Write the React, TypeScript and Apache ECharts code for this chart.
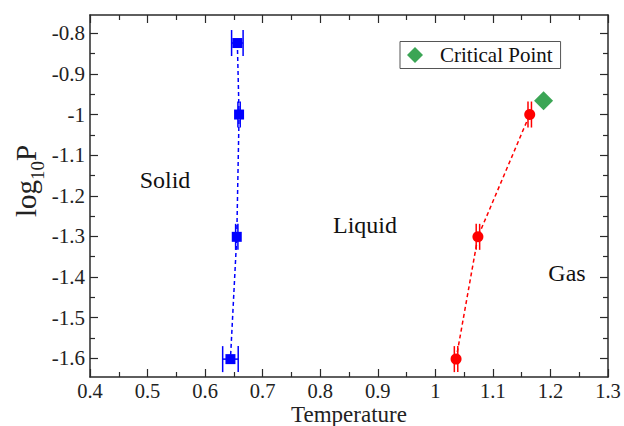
import React, { useEffect, useRef } from "react";
import * as echarts from "echarts";

const blueT = [0.656, 0.659, 0.655, 0.644];
const blueLogP = [-0.824, -1.0, -1.301, -1.602];
const blueErr = [0.010, 0.002, 0.002, 0.0135];

const redT = [1.036, 1.074, 1.164];
const redLogP = [-1.602, -1.301, -1.0];
const redErr = [0.003, 0.003, 0.003];

const critT = [1.188];
const critLogP = [-0.966];

const regionLabels = ["Solid", "Liquid", "Gas"];

const FONT = "'Liberation Serif', 'DejaVu Serif', serif";
const AX = "#2a2a2a";

function errRender(color: string) {
  return (params: any, api: any) => {
    const x = api.value(0), y = api.value(1), e = api.value(2);
    const l = api.coord([x - e, y]);
    const r = api.coord([x + e, y]);
    const h = 13;
    const style = { stroke: color, lineWidth: 1.5, fill: "none" };
    return {
      type: "group",
      children: [
        { type: "line", shape: { x1: l[0], y1: l[1], x2: r[0], y2: r[1] }, style },
        { type: "line", shape: { x1: l[0], y1: l[1] - h, x2: l[0], y2: l[1] + h }, style },
        { type: "line", shape: { x1: r[0], y1: r[1] - h, x2: r[0], y2: r[1] + h }, style },
      ],
    };
  };
}

export default function App() {
  const ref = useRef<HTMLDivElement>(null);
  useEffect(() => {
    if (!ref.current) return;
    const chart = echarts.init(ref.current, null, { renderer: "svg" });
    const tickStyle = { color: AX, width: 1.2 };
    const labelStyle = { fontFamily: FONT, fontSize: 21, color: "#222" };
    const option: any = {
      animation: false,
      backgroundColor: "#fff",
      grid: [
        { left: 90, top: 15, width: 518, height: 362, outerBoundsMode: "none", containLabel: false },
        { left: 90, top: 33.3, width: 518, height: 325, outerBoundsMode: "none", containLabel: false },
      ],
      xAxis: [
        {
          type: "value", gridIndex: 0, position: "bottom", min: 0.4, max: 1.3, interval: 0.1,
          axisLine: { show: true, lineStyle: { color: AX, width: 1.5 } },
          axisTick: { show: true, inside: true, length: 8, lineStyle: tickStyle },
          minorTick: { show: true, splitNumber: 2, length: 5, lineStyle: tickStyle },
          splitLine: { show: false },
          axisLabel: { ...labelStyle, fontSize: 20.5, margin: 4, lineHeight: 20 },
          name: "Temperature", nameLocation: "middle", nameGap: 26, nameMoveOverlap: false,
          nameTextStyle: { fontFamily: FONT, fontSize: 23, color: "#222", lineHeight: 22, verticalAlign: "top" },
        },
        {
          type: "value", gridIndex: 0, position: "top", min: 0.4, max: 1.3, interval: 0.1,
          axisLine: { show: true, lineStyle: { color: AX, width: 1.5 } },
          axisTick: { show: true, inside: true, length: 8, lineStyle: tickStyle },
          minorTick: { show: true, splitNumber: 2, length: 5, lineStyle: tickStyle },
          splitLine: { show: false },
          axisLabel: { show: false },
        },
        { type: "value", gridIndex: 1, min: 0, max: 1, show: false },
      ],
      yAxis: [
        {
          type: "value", gridIndex: 0, position: "left", min: -1.646, max: -0.755,
          axisLine: { show: true, lineStyle: { color: AX, width: 1.5 } },
          axisTick: { show: false }, axisLabel: { show: false }, splitLine: { show: false },
        },
        {
          type: "value", gridIndex: 0, position: "right", min: -1.646, max: -0.755,
          axisLine: { show: true, lineStyle: { color: AX, width: 1.5 } },
          axisTick: { show: false }, axisLabel: { show: false }, splitLine: { show: false },
        },
        {
          type: "value", gridIndex: 1, position: "left", min: -1.6, max: -0.8, interval: 0.1,
          axisLine: { show: false },
          axisTick: { show: true, inside: true, length: 8, lineStyle: tickStyle },
          minorTick: { show: true, splitNumber: 2, length: 5, lineStyle: tickStyle },
          splitLine: { show: false },
          axisLabel: { ...labelStyle, margin: 5 },
        },
        {
          type: "value", gridIndex: 1, position: "right", min: -1.6, max: -0.8, interval: 0.1,
          axisLine: { show: false },
          axisTick: { show: true, inside: true, length: 8, lineStyle: tickStyle },
          minorTick: { show: true, splitNumber: 2, length: 5, lineStyle: tickStyle },
          splitLine: { show: false },
          axisLabel: { show: false },
        },
      ],
      legend: {
        data: [{ name: "Critical Point", icon: "diamond" }],
        left: 400, top: 41.5,
        orient: "horizontal",
        padding: [3, 8, 3, 7],
        borderColor: "#555", borderWidth: 1,
        itemWidth: 16, itemHeight: 16,
        textStyle: { fontFamily: FONT, fontSize: 21, color: "#111", padding: [0, 0, 0, 12] },
        selectedMode: false,
      },
      series: [
        {
          type: "custom", name: "blueErr", xAxisIndex: 0, yAxisIndex: 0,
          renderItem: errRender("#0000ff"),
          encode: { x: 0, y: 1 },
          data: blueT.map((t, i) => [t, blueLogP[i], blueErr[i]]),
          z: 2,
        },
        {
          type: "custom", name: "redErr", xAxisIndex: 0, yAxisIndex: 0,
          renderItem: errRender("#ff0000"),
          encode: { x: 0, y: 1 },
          data: redT.map((t, i) => [t, redLogP[i], redErr[i]]),
          z: 2,
        },
        {
          type: "line", name: "Solid-Liquid", xAxisIndex: 0, yAxisIndex: 0,
          data: blueT.map((t, i) => [t, blueLogP[i]]),
          symbol: "rect", symbolSize: 10,
          itemStyle: { color: "#0000ff" },
          lineStyle: { color: "#0000ff", width: 1.5, type: [4, 3] },
          z: 3,
        },
        {
          type: "line", name: "Liquid-Gas", xAxisIndex: 0, yAxisIndex: 0,
          data: redT.map((t, i) => [t, redLogP[i]]),
          symbol: "circle", symbolSize: 11,
          itemStyle: { color: "#ff0000" },
          lineStyle: { color: "#ff0000", width: 1.5, type: [4, 3] },
          z: 3,
        },
        {
          type: "scatter", name: "Critical Point", xAxisIndex: 0, yAxisIndex: 0,
          data: critT.map((t, i) => [t, critLogP[i]]),
          symbol: "diamond", symbolSize: 19,
          itemStyle: { color: "#0a8f2a" },
          z: 4,
        },
      ],
      graphic: [
        {
          type: "text", x: 29, y: 181, rotation: Math.PI / 2,
          style: {
            text: "{a|log}{s|10}{a|P}",
            align: "center", verticalAlign: "middle",
            rich: {
              a: { fontFamily: FONT, fontSize: 29, fill: "#222", verticalAlign: "top", lineHeight: 36 },
              s: { fontFamily: FONT, fontSize: 19, fill: "#222", verticalAlign: "bottom", lineHeight: 36 },
            },
          },
        },
        {
          type: "text", x: 165, y: 180,
          style: { text: regionLabels[0], fontFamily: FONT, fontSize: 24, fill: "#111", align: "center", verticalAlign: "middle" },
        },
        {
          type: "text", x: 365, y: 225,
          style: { text: regionLabels[1], fontFamily: FONT, fontSize: 24, fill: "#111", align: "center", verticalAlign: "middle" },
        },
        {
          type: "text", x: 567, y: 273,
          style: { text: regionLabels[2], fontFamily: FONT, fontSize: 24, fill: "#111", align: "center", verticalAlign: "middle" },
        },
      ],
    };
    chart.setOption(option);
    return () => chart.dispose();
  }, []);
  return (
    <div
      ref={ref}
      style={{ position: "absolute", left: 0, top: 0, width: 624, height: 426, background: "#fff" }}
    />
  );
}
